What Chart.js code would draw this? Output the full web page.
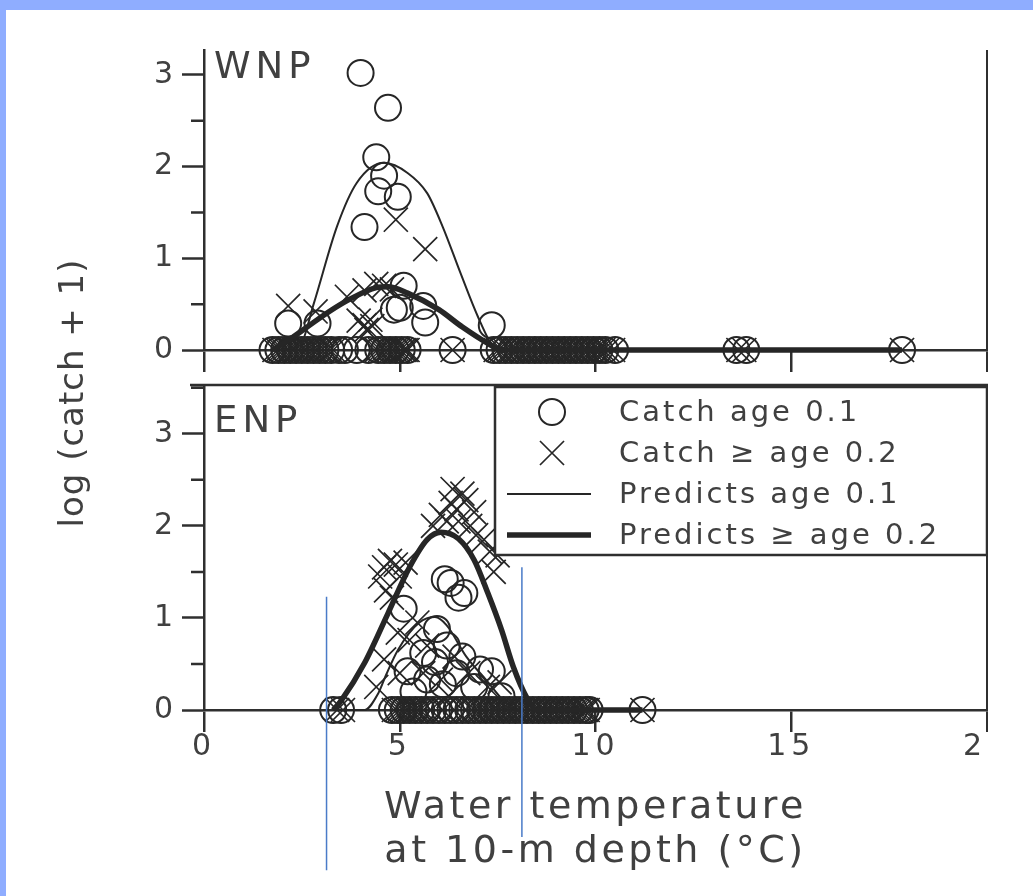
<!DOCTYPE html>
<html>
<head>
<meta charset="utf-8">
<title>Catch vs water temperature</title>
<script src="https://cdn.jsdelivr.net/npm/chart.js@4.4.1/dist/chart.umd.min.js"></script>
<style>
  html, body { margin: 0; padding: 0; }
  body { width: 1033px; height: 896px; background: #8fadff; position: relative; overflow: hidden; }
  #sheet { position: absolute; left: 6px; top: 10px; width: 1027px; height: 886px; background: #fff; }
  #clip { position: absolute; left: 0; top: 0; width: 988px; height: 896px; overflow: hidden; }
  .panel { position: absolute; left: 0; top: 0; width: 1033px; height: 896px; }
</style>
</head>
<body>
<div id="sheet"></div>
<div id="clip">
  <div class="panel"><canvas id="wnp"></canvas></div>
  <div class="panel"><canvas id="enp"></canvas></div>
</div>
<script>
// axes
const X_TICKS = [0, 5, 10, 15, 20];
const Y_TICKS = [0, 1, 2, 3];
const Y_MINOR = [0.5, 1.5, 2.5, 3.5];
const X_TITLE = ['Water temperature', 'at 10-m depth (°C)'];
const Y_TITLE = 'log (catch + 1)';
const LEGEND_LABELS = ['Catch age 0.1', 'Catch \u2265 age 0.2', 'Predicts age 0.1', 'Predicts \u2265 age 0.2'];

// WNP panel: [temperature, log(catch+1)]
const WNP_AGE01 = [
  [4.0, 3.02], [4.7, 2.64], [4.4, 2.1], [4.6, 1.9], [4.45, 1.73], [4.95, 1.67], [4.1, 1.34],
  [5.1, 0.7], [5.6, 0.48], [5.0, 0.46], [4.85, 0.44], [5.65, 0.3], [2.15, 0.29], [2.9, 0.29], [7.35, 0.27],
  [1.75, 0], [1.9, 0], [2.05, 0], [2.2, 0], [2.35, 0], [2.5, 0], [2.65, 0], [2.8, 0], [2.95, 0], [3.1, 0],
  [3.25, 0], [3.45, 0], [3.6, 0], [3.9, 0], [4.2, 0], [4.45, 0], [4.6, 0], [4.75, 0], [4.9, 0], [5.05, 0],
  [5.2, 0], [6.35, 0], [7.4, 0], [7.55, 0], [7.7, 0], [7.85, 0], [8.0, 0], [8.15, 0], [8.3, 0], [8.45, 0],
  [8.6, 0], [8.75, 0], [8.9, 0], [9.05, 0], [9.2, 0], [9.35, 0], [9.5, 0], [9.65, 0], [9.8, 0], [9.95, 0],
  [10.1, 0], [10.25, 0], [10.5, 0], [13.6, 0], [13.85, 0], [17.83, 0]
];
const WNP_AGE02 = [
  [4.9, 1.42], [5.65, 1.1], [2.15, 0.48], [2.85, 0.42], [3.65, 0.58], [4.1, 0.65], [4.4, 0.72],
  [4.6, 0.7], [4.8, 0.66], [3.95, 0.32], [4.1, 0.27], [4.25, 0.33], [4.15, 0.22], [4.3, 0.26],
  [1.8, 0], [1.88, 0], [1.95, 0], [2.02, 0], [2.1, 0], [2.17, 0], [2.25, 0], [2.32, 0], [2.4, 0], [2.48, 0],
  [2.55, 0], [2.62, 0], [2.7, 0], [2.78, 0], [2.85, 0], [2.92, 0], [3.0, 0], [3.08, 0], [3.15, 0], [3.22, 0],
  [3.3, 0], [4.35, 0], [4.42, 0], [4.5, 0], [4.58, 0], [4.65, 0], [4.72, 0], [4.8, 0], [4.88, 0], [4.95, 0],
  [5.02, 0], [5.1, 0], [5.15, 0], [5.2, 0], [6.35, 0],
  [7.45, 0], [7.52, 0], [7.6, 0], [7.68, 0], [7.8, 0], [7.88, 0], [7.95, 0], [8.02, 0], [8.1, 0], [8.18, 0],
  [8.25, 0], [8.32, 0], [8.4, 0], [8.48, 0], [8.55, 0], [8.62, 0], [8.7, 0], [8.78, 0], [8.85, 0], [8.92, 0],
  [9.0, 0], [9.08, 0], [9.15, 0], [9.22, 0], [9.3, 0], [9.38, 0], [9.45, 0], [9.52, 0], [9.6, 0], [9.68, 0],
  [9.75, 0], [9.82, 0], [9.9, 0], [9.98, 0], [10.05, 0], [10.12, 0], [10.2, 0], [10.3, 0], [10.45, 0],
  [13.65, 0], [13.8, 0], [17.83, 0]
];
const WNP_PRED01 = [
  [1.75, 0], [2.45, 0.05], [2.8, 0.5], [3.4, 1.35], [3.9, 1.82], [4.6, 2.04], [5.2, 1.93], [5.7, 1.71],
  [6.1, 1.34], [6.55, 0.84], [7.0, 0.36], [7.4, 0.03], [7.6, 0], [10.5, 0], [13.85, 0], [17.83, 0]
];
const WNP_PRED02 = [
  [1.75, 0], [2.2, 0.12], [2.6, 0.24], [3.2, 0.42], [3.75, 0.56], [4.4, 0.68], [4.7, 0.69], [5.2, 0.62],
  [6.0, 0.44], [6.6, 0.25], [7.3, 0.06], [7.6, 0], [10.5, 0], [13.85, 0], [17.83, 0]
];

// ENP panel
const ENP_AGE01 = [
  [5.1, 1.1], [6.15, 1.42], [6.3, 1.38], [6.65, 1.27], [6.5, 1.22], [5.95, 0.88], [6.2, 0.7], [5.6, 0.62],
  [6.6, 0.58], [5.9, 0.52], [5.7, 0.33], [6.45, 0.4], [7.05, 0.44], [7.35, 0.42], [6.9, 0.25], [5.35, 0.2],
  [6.1, 0.28], [5.2, 0.42], [7.6, 0.15],
  [3.3, 0], [3.5, 0], [4.8, 0], [4.95, 0], [5.1, 0], [5.25, 0], [5.4, 0], [5.55, 0], [5.7, 0], [5.85, 0],
  [6.0, 0], [6.15, 0], [6.3, 0], [6.45, 0], [6.6, 0], [6.75, 0], [6.9, 0], [7.05, 0], [7.2, 0], [7.35, 0],
  [7.5, 0], [7.65, 0], [7.8, 0], [7.95, 0], [8.1, 0], [8.25, 0], [8.4, 0], [8.55, 0], [8.7, 0], [8.85, 0],
  [9.0, 0], [9.15, 0], [9.3, 0], [9.45, 0], [9.6, 0], [9.75, 0], [9.85, 0], [11.2, 0]
];
const ENP_AGE02 = [
  [6.05, 2.12], [6.2, 2.05], [6.3, 2.25], [6.45, 2.18], [6.6, 2.35], [6.7, 2.28], [6.5, 2.05], [6.8, 2.0],
  [6.95, 1.9], [7.15, 1.85], [7.3, 1.72], [7.5, 1.68], [7.4, 1.5], [5.85, 2.0], [6.35, 2.4], [6.9, 2.15],
  [4.5, 1.45], [4.6, 1.55], [4.75, 1.62], [4.9, 1.58], [4.65, 1.3], [4.8, 1.22], [5.0, 1.45], [5.15, 1.6],
  [4.6, 0.55], [4.95, 0.84], [5.25, 0.76], [5.0, 0.4], [5.6, 0.4], [5.45, 0.95], [6.05, 0.33], [6.4, 0.58],
  [6.75, 0.4], [7.25, 0.25], [7.55, 0.3], [5.7, 0.7], [6.25, 0.15], [4.4, 0.25],
  [3.4, 0], [3.55, 0], [4.85, 0], [4.92, 0], [5.0, 0], [5.08, 0], [5.15, 0], [5.22, 0], [5.3, 0], [5.38, 0],
  [5.45, 0], [5.52, 0], [5.6, 0], [5.8, 0], [6.1, 0], [6.4, 0], [6.7, 0], [6.85, 0], [6.92, 0], [7.0, 0],
  [7.08, 0], [7.15, 0], [7.22, 0], [7.3, 0], [7.38, 0], [7.45, 0], [7.52, 0], [7.6, 0], [7.68, 0], [7.75, 0],
  [7.82, 0], [7.9, 0], [7.98, 0], [8.05, 0], [8.12, 0], [8.2, 0], [8.28, 0], [8.35, 0], [8.42, 0], [8.5, 0],
  [8.58, 0], [8.65, 0], [8.72, 0], [8.8, 0], [8.88, 0], [8.95, 0], [9.02, 0], [9.1, 0], [9.18, 0], [9.25, 0],
  [9.32, 0], [9.4, 0], [9.48, 0], [9.55, 0], [9.62, 0], [9.7, 0], [9.75, 0], [9.8, 0], [11.2, 0]
];
const ENP_PRED01 = [
  [3.3, 0], [4.1, 0], [4.45, 0.18], [4.65, 0.38], [4.95, 0.65], [5.5, 0.95], [5.9, 1.01], [6.2, 0.92],
  [6.7, 0.58], [7.2, 0.33], [7.7, 0.08], [8.0, 0], [9.85, 0], [11.2, 0]
];
const ENP_PRED02 = [
  [3.3, 0], [3.5, 0.1], [4.1, 0.51], [4.7, 1.05], [5.25, 1.55], [5.7, 1.85], [6.05, 1.93], [6.5, 1.86],
  [6.9, 1.63], [7.25, 1.27], [7.6, 0.87], [7.9, 0.47], [8.25, 0.13], [8.5, 0], [9.85, 0], [11.2, 0]
];

// blue guide marks drawn over the figure: [x, yTop, yBottom]
const GUIDES = [[3.13, 1.23, -1.74], [8.12, 1.55, -1.38]];

const FONT = "'DejaVu Sans', 'Liberation Sans', Arial, sans-serif";
const INK = '#2f2f2f';
const MARK = '#262626';
const TEXT = '#404040';
const GUIDE = '#4a7bc8';

Chart.defaults.font.family = FONT;
Chart.defaults.color = TEXT;

const pts = arr => arr.map(([x, y]) => ({ x, y }));

function panelDatasets(circles, crosses, pred01, pred02) {
  return [
    { label: LEGEND_LABELS[0], data: pts(circles), pointStyle: 'circle', pointRadius: 13,
      borderWidth: 2, borderColor: MARK, backgroundColor: 'rgba(0,0,0,0)', order: 2, clip: false },
    { label: LEGEND_LABELS[1], data: pts(crosses), pointStyle: 'crossRot', pointRadius: 17,
      borderWidth: 1.7, borderColor: MARK, backgroundColor: 'rgba(0,0,0,0)', order: 2, clip: false },
    { label: LEGEND_LABELS[2], data: pts(pred01), showLine: true, pointRadius: 0, borderWidth: 2,
      borderColor: MARK, cubicInterpolationMode: 'monotone', order: 1, clip: false },
    { label: LEGEND_LABELS[3], data: pts(pred02), showLine: true, pointRadius: 0, borderWidth: 5.5,
      borderColor: MARK, cubicInterpolationMode: 'monotone', order: 0, clip: false }
  ];
}

// letter spacing: axis title in the grid layer, tick labels drawn after the datasets
const spacing = {
  id: 'spacing',
  beforeDraw(chart) { chart.ctx.letterSpacing = '3.5px'; },
  afterDatasetsDraw(chart) { chart.ctx.letterSpacing = '5px'; }
};

// minor y ticks, optional top frame line and the panel name
function panelDecor(name, nameDy, frameTop) {
  return {
    id: 'panelDecor',
    afterDraw(chart) {
      const { ctx, chartArea: a, scales: { y } } = chart;
      ctx.save();
      ctx.strokeStyle = INK;
      ctx.lineWidth = 2.5;
      ctx.beginPath();
      Y_MINOR.forEach(v => {
        if (v > y.max) return;
        const py = y.getPixelForValue(v);
        ctx.moveTo(a.left - 13, py);
        ctx.lineTo(a.left, py);
      });
      if (frameTop) {
        ctx.moveTo(a.left - 14, a.top);
        ctx.lineTo(a.right + 1, a.top);
      }
      ctx.stroke();
      ctx.letterSpacing = '5px';
      ctx.font = `37px ${FONT}`;
      ctx.fillStyle = TEXT;
      ctx.textBaseline = 'alphabetic';
      ctx.textAlign = 'left';
      ctx.fillText(name, a.left + 10, a.top + nameDy);
      ctx.restore();
    }
  };
}

// boxed legend in the top-right of the ENP panel, plus the shared y title
const boxLegend = {
  id: 'boxLegend',
  afterDraw(chart) {
    const { ctx, chartArea: a } = chart;
    const items = chart.data.datasets.filter(d => d.label);
    const left = a.left + 291, top = a.top + 2, right = a.right, h = 168;
    ctx.save();
    ctx.fillStyle = '#fff';
    ctx.fillRect(left, top, right - left, h);
    ctx.strokeStyle = INK;
    ctx.lineWidth = 2.5;
    ctx.strokeRect(left, top, right - left, h);
    items.forEach((d, i) => {
      const cy = top + 25 + i * 41;
      const cx = left + 57;
      ctx.strokeStyle = d.borderColor;
      ctx.lineWidth = d.borderWidth;
      ctx.beginPath();
      if (d.showLine) {
        ctx.moveTo(left + 12, cy);
        ctx.lineTo(left + 96, cy);
      } else if (d.pointStyle === 'circle') {
        ctx.arc(cx, cy, d.pointRadius, 0, Math.PI * 2);
      } else {
        const r = d.pointRadius * Math.SQRT1_2;
        ctx.moveTo(cx - r, cy - r); ctx.lineTo(cx + r, cy + r);
        ctx.moveTo(cx - r, cy + r); ctx.lineTo(cx + r, cy - r);
      }
      ctx.stroke();
      ctx.fillStyle = TEXT;
      ctx.font = `29px ${FONT}`;
      ctx.letterSpacing = '3px';
      ctx.textAlign = 'left';
      ctx.textBaseline = 'middle';
      ctx.fillText(d.label, left + 124, cy + 1);
    });

    // y title shared by both panels
    ctx.translate(a.left - 121, a.top + 8);
    ctx.rotate(-Math.PI / 2);
    ctx.font = `34px ${FONT}`;
    ctx.letterSpacing = '1px';
    ctx.textAlign = 'center';
    ctx.textBaseline = 'alphabetic';
    ctx.fillStyle = TEXT;
    ctx.fillText(Y_TITLE, 0, 0);
    ctx.restore();
  }
};

function panelChart(id, cfg) {
  return new Chart(document.getElementById(id), {
    type: 'scatter',
    data: { datasets: cfg.datasets },
    options: {
      responsive: true,
      maintainAspectRatio: false,
      animation: false,
      events: [],
      layout: { padding: { left: 150, right: 46, top: cfg.top, bottom: cfg.bottom } },
      plugins: { legend: { display: false }, tooltip: { enabled: false } },
      scales: {
        x: {
          type: 'linear',
          min: 0,
          max: 20,
          afterBuildTicks: s => { s.ticks = X_TICKS.map(v => ({ value: v })); },
          afterFit: s => { s.height = cfg.xHeight; },
          border: { color: INK, width: 2.5 },
          grid: {
            drawOnChartArea: true,
            drawTicks: true,
            tickLength: 22,
            color: c => (c.tick && c.tick.value === 20 ? INK : 'rgba(0,0,0,0)'),
            lineWidth: 2.5,
            tickColor: INK,
            tickWidth: 2.5
          },
          ticks: { display: cfg.xLabels, padding: 0, z: 1, color: TEXT, font: { size: 30, lineHeight: 1 } },
          title: {
            display: cfg.xLabels,
            text: X_TITLE,
            color: TEXT,
            padding: 0,
            font: { size: 38, lineHeight: 1.16 }
          }
        },
        y: {
          type: 'linear',
          min: 0,
          max: cfg.yMax,
          afterBuildTicks: s => { s.ticks = Y_TICKS.map(v => ({ value: v })); },
          afterFit: s => { s.width = 54; },
          border: { color: INK, width: 2.5 },
          grid: { drawOnChartArea: false, tickLength: 22, tickColor: INK, tickWidth: 2.5 },
          ticks: { padding: 4, z: 1, color: TEXT, font: { size: 30 } }
        }
      }
    },
    plugins: cfg.plugins
  });
}

panelChart('wnp', {
  datasets: panelDatasets(WNP_AGE01, WNP_AGE02, WNP_PRED01, WNP_PRED02),
  top: 50, bottom: 524, xHeight: 22, yMax: 3.27, xLabels: false,
  plugins: [spacing, panelDecor('WNP', 28, false)]
});

const enpSets = panelDatasets(ENP_AGE01, ENP_AGE02, ENP_PRED01, ENP_PRED02);
GUIDES.forEach(([x, y0, y1]) => {
  enpSets.push({ label: '', data: [{ x, y: y0 }, { x, y: y1 }], showLine: true, pointRadius: 0,
    borderWidth: 1.5, borderColor: GUIDE, order: -1, clip: false });
});

panelChart('enp', {
  datasets: enpSets,
  top: 385, bottom: 22, xHeight: 164, yMax: 3.53, xLabels: true,
  plugins: [spacing, panelDecor('ENP', 47, true), boxLegend]
});
</script>
</body>
</html>
